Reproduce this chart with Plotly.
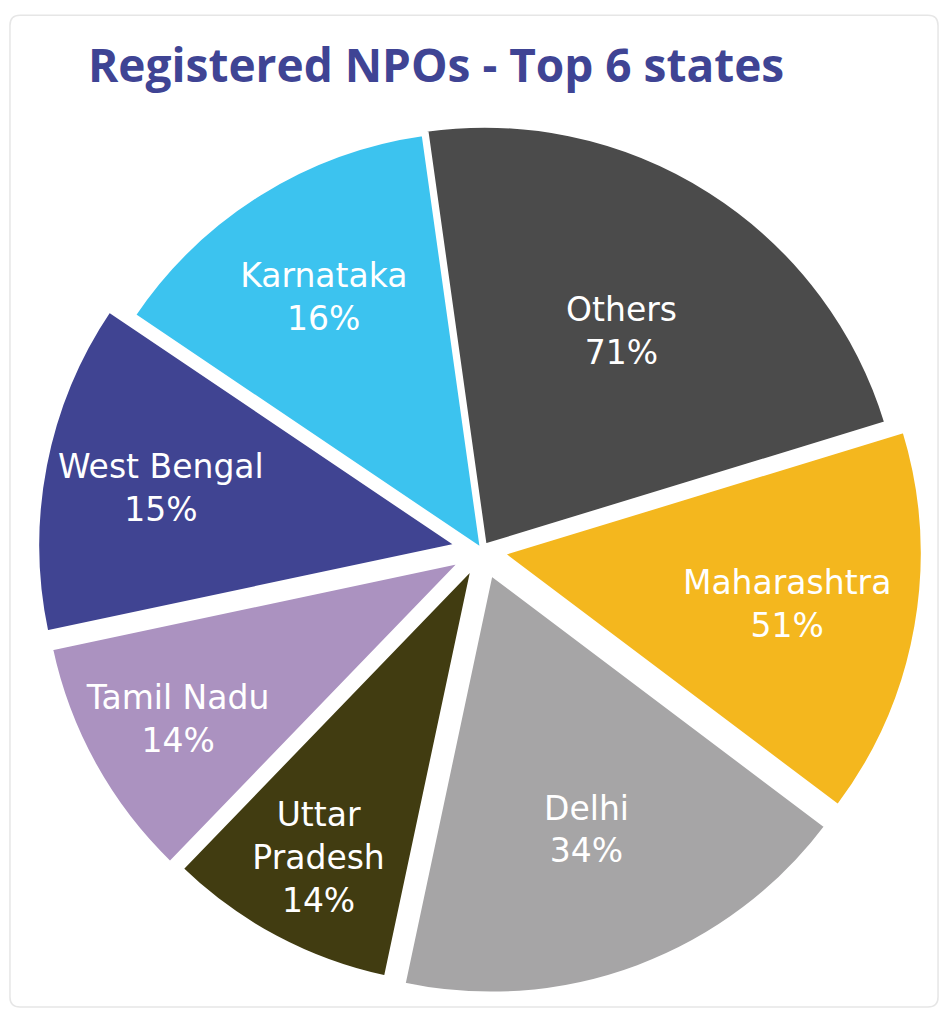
import plotly.graph_objects as go

states = ["Others", "Maharashtra", "Delhi", "Uttar Pradesh", "Tamil Nadu", "West Bengal", "Karnataka"]
display_names = ["Others", "Maharashtra", "Delhi", "Uttar<br>Pradesh", "Tamil Nadu", "West Bengal", "Karnataka"]
slice_share = [81, 54, 65, 32, 34, 46, 48]
pct_labels = ["71%", "51%", "34%", "14%", "14%", "15%", "16%"]
colors = ["#4b4b4b", "#f4b71e", "#a6a5a6", "#413c11", "#ab92c0", "#404492", "#3cc3ef"]
pulls = [0.012, 0.05, 0.06, 0.045, 0.055, 0.06, 0.0]

W, H = 948, 1024
cx, cy, R = 482, 550, 420
half = R * (1 + max(pulls))

fig = go.Figure(go.Pie(
    labels=states,
    values=slice_share,
    customdata=list(zip(display_names, pct_labels)),
    texttemplate="%{customdata[0]}<br>%{customdata[1]}",
    textinfo="text",
    textposition="inside",
    insidetextorientation="horizontal",
    textfont=dict(family="DejaVu Sans", size=33, color="white"),
    marker=dict(colors=colors, line=dict(color="white", width=4)),
    pull=pulls,
    sort=False,
    direction="clockwise",
    rotation=-8,
    hoverinfo="label+percent",
    showlegend=False,
    domain=dict(x=[(cx - half) / W, (cx + half) / W],
                y=[1 - (cy + half) / H, 1 - (cy - half) / H]),
))

fig.update_layout(
    width=W, height=H,
    margin=dict(l=0, r=0, t=0, b=0),
    paper_bgcolor="white",
    uniformtext=dict(minsize=33, mode="show"),
    title=dict(text="<b>Registered NPOs - Top 6 states</b>",
               x=88 / W, xanchor="left", y=1 - 66 / H, yanchor="middle",
               font=dict(family="Open Sans", size=46, color="#3f4494")),
    shapes=[dict(type="path", xref="paper", yref="paper",
                 path="M 0.0211,0.985 L 0.9789,0.985 Q 0.9895,0.985 0.9895,0.975 L 0.9895,0.0264 Q 0.9895,0.0166 0.9789,0.0166 "
                      "L 0.0211,0.0166 Q 0.0105,0.0166 0.0105,0.0264 L 0.0105,0.975 Q 0.0105,0.985 0.0211,0.985 Z",
                 line=dict(color="#e6e6e6", width=1.5), layer="below")],
)

fig.write_html("out.html")
